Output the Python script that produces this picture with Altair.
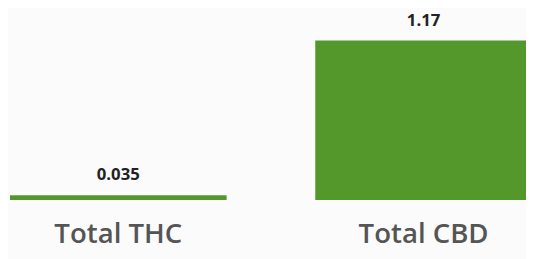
import altair as alt
import pandas as pd

categories = ["Total THC", "Total CBD"]
values = [0.035, 1.17]
labels = ["0.035", "1.17"]

df = pd.DataFrame({"cat": categories, "val": values, "lab": labels})

xscale = alt.Scale(domain=categories, range=[2, 532], paddingInner=0.2903, paddingOuter=0)
yscale = alt.Scale(domain=[0, 1.394], nice=False, zero=True)

base = alt.Chart(df).encode(
    x=alt.X("cat:N", scale=xscale, sort=categories,
            axis=alt.Axis(title=None, domain=False, ticks=False, labelAngle=0,
                          labelFont="Open Sans", labelFontSize=28, labelFontWeight=600,
                          labelColor="#555555", labelPadding=21)),
    y=alt.Y("val:Q", scale=yscale, axis=None),
)

bars = base.mark_bar(color="#54982c", clip=True)
text = base.mark_text(baseline="alphabetic", dy=-15, font="Open Sans", fontSize=17,
                      fontWeight="bold", color="#222222").encode(text="lab:N")

chart = (bars + text).properties(
    width=526, height=193,
    padding={"left": 0, "top": 0, "right": 0, "bottom": 58},
    autosize=alt.AutoSizeParams(type="none"),
    background="#fbfbfb"
).configure_view(stroke=None)

chart.save("out.html", embed_options={"renderer": "svg", "actions": False})
